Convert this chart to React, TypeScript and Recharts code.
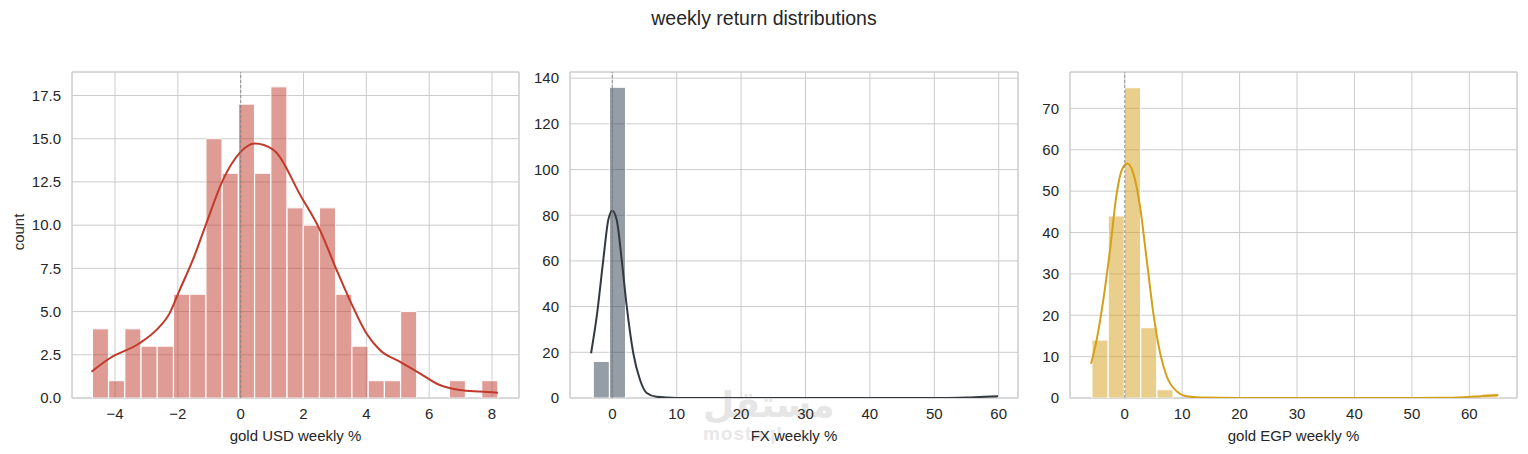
import React from 'react';
import {
  ComposedChart,
  Bar,
  Line,
  XAxis,
  YAxis,
  CartesianGrid,
  ReferenceLine,
  ReferenceArea,
} from 'recharts';

// gold USD weekly % histogram (25 bins)
const usdBinStart = -4.72;
const usdBinWidth = 0.5165;
const usdCounts = [4, 1, 4, 3, 3, 6, 6, 15, 13, 17, 13, 18, 11, 10, 11, 6, 3, 1, 1, 5, 0, 0, 1, 0, 1];
const usdKdeX = [-4.75, -4.17, -3.22, -2.68, -2.26, -1.94, -1.52, -1.09, -0.56, -0.03, 0.45, 1.03, 1.94, 2.52, 3.05, 3.47, 4.0, 4.43, 5.06, 5.7, 6.34, 6.97, 7.61, 8.19];
const usdKdeY = [1.52, 2.3, 3.17, 3.94, 4.91, 6.26, 8.0, 10.12, 12.63, 14.18, 14.72, 14.37, 11.6, 9.73, 7.42, 5.68, 3.75, 2.78, 2.1, 1.43, 0.75, 0.46, 0.37, 0.31];

// FX weekly % histogram
const fxBinStart = -2.95;
const fxBinWidth = 2.514;
const fxCounts = [16, 136, 0, 0, 0, 0, 0, 0, 0, 0, 0, 0, 0, 0, 0, 0, 0, 0, 0, 0, 0, 0, 0, 0, 1];
const fxKdeX = [-3.3, -2.42, -1.4, -0.62, 0, 0.68, 1.46, 2.24, 3.26, 4.3, 5.34, 6.9, 10, 20, 30, 40, 50, 52, 55, 57, 59.9];
const fxKdeY = [19.6, 35.7, 60.5, 78, 82, 78, 60.5, 40.1, 19.6, 8, 2.2, 0.5, 0.02, 0, 0, 0, 0.02, 0.05, 0.2, 0.45, 0.8];

// gold EGP weekly % histogram
const egpBinStart = -5.7;
const egpBinWidth = 2.83;
const egpCounts = [14, 44, 75, 17, 2, 0, 0, 0, 0, 0, 0, 0, 0, 0, 0, 0, 0, 0, 0, 0, 0, 0, 0, 0, 1];
const egpKdeX = [-5.87, -4.88, -3.73, -2.56, -1.39, -0.52, 0.45, 1.5, 2.67, 3.83, 4.98, 6.15, 7.32, 9.06, 10.8, 13.1, 20, 30, 40, 50, 55, 59, 62, 65.05];
const egpKdeY = [8.28, 14.1, 23.7, 35.8, 49.5, 55.1, 56.7, 54.3, 46.2, 33.4, 20.5, 10.9, 5.2, 1.6, 0.4, 0.1, 0, 0, 0, 0.01, 0.05, 0.2, 0.45, 0.7];

const usdYTicks = [0, 2.5, 5, 7.5, 10, 12.5, 15, 17.5];
const usdXTicks = [-4, -2, 0, 2, 4, 6, 8];
const fxYTicks = [0, 20, 40, 60, 80, 100, 120, 140];
const fxXTicks = [0, 10, 20, 30, 40, 50, 60];
const egpYTicks = [0, 10, 20, 30, 40, 50, 60, 70];
const egpXTicks = [0, 10, 20, 30, 40, 50, 60];

const toBins = (start: number, width: number, counts: number[]) =>
  counts.map((c, i) => ({ x: start + width * (i + 0.5), count: c }));
const toKde = (xs: number[], ys: number[]) => xs.map((x, i) => ({ x, y: ys[i] }));

const fmtX = (v: number) => (v < 0 ? '\u2212' + Math.abs(v) : String(v));
const TEXT = '#262626';
const tickStyle = { fontSize: 15, fill: TEXT };

interface PanelProps {
  left: number;
  width: number;
  yAxisWidth: number;
  marginLeft: number;
  marginRight: number;
  bins: { x: number; count: number }[];
  kde: { x: number; y: number }[];
  color: string;
  lineColor: string;
  xDomain: [number, number];
  yDomain: [number, number];
  xTicks: number[];
  yTicks: number[];
  yFmt: (v: number) => string;
  xLabel: string;
}

const Panel: React.FC<PanelProps> = (p) => (
  <div style={{ position: 'absolute', left: p.left, top: 0 }}>
    <ComposedChart
      width={p.width}
      height={454}
      data={p.bins}
      margin={{ top: 72, right: p.marginRight, bottom: 6, left: p.marginLeft }}
      barCategoryGap={0}
      barGap={0}
    >
      <CartesianGrid xAxisId="bins" stroke="#cccccc" strokeWidth={1} />
      <XAxis
        xAxisId="bins"
        dataKey="x"
        type="number"
        domain={p.xDomain}
        ticks={p.xTicks}
        allowDataOverflow
        tickLine={false}
        axisLine={false}
        tickSize={0}
        tickMargin={10}
        tick={tickStyle}
        tickFormatter={fmtX}
        height={50}
        label={{ value: p.xLabel, position: 'insideBottom', offset: 7, fill: TEXT, fontSize: 15 }}
      />
      <XAxis xAxisId="kde" dataKey="x" type="number" domain={p.xDomain} allowDataOverflow hide />
      <YAxis
        type="number"
        domain={p.yDomain}
        ticks={p.yTicks}
        allowDataOverflow
        tickLine={false}
        axisLine={false}
        tickSize={0}
        tickMargin={11}
        tick={tickStyle}
        tickFormatter={p.yFmt}
        width={p.yAxisWidth}
      />
      <Bar
        xAxisId="bins"
        dataKey="count"
        fill={p.color}
        fillOpacity={0.5}
        stroke="#ffffff"
        strokeWidth={1}
        isAnimationActive={false}
      />
      <Line
        xAxisId="kde"
        data={p.kde}
        dataKey="y"
        type="monotone"
        stroke={p.lineColor}
        strokeWidth={2}
        dot={false}
        activeDot={false}
        isAnimationActive={false}
      />
      <ReferenceLine xAxisId="bins" x={0} stroke="#808080" strokeWidth={0.8} strokeDasharray="3 2" />
      <ReferenceArea
        xAxisId="bins"
        x1={p.xDomain[0]}
        x2={p.xDomain[1]}
        y1={p.yDomain[0]}
        y2={p.yDomain[1]}
        fill="none"
        stroke="#cccccc"
        strokeWidth={1}
        fillOpacity={0}
      />
    </ComposedChart>
  </div>
);

export default function App() {
  return (
    <div
      style={{
        position: 'absolute',
        left: 0,
        top: 0,
        width: 1528,
        height: 454,
        background: '#ffffff',
        fontFamily: '"Liberation Sans", Arial, sans-serif',
        color: TEXT,
        overflow: 'hidden',
      }}
    >
      <div style={{ position: 'absolute', left: 0, top: 7, width: 1528, textAlign: 'center', fontSize: 19.5 }}>
        weekly return distributions
      </div>
      {/* site watermark, drawn under the charts */}
      <div style={{ position: 'absolute', left: 703, top: 384, fontSize: 36, fontWeight: 'bold', color: '#e6e6e6', fontFamily: '"DejaVu Sans", sans-serif' }}>
        مستقل
      </div>
      <div style={{ position: 'absolute', left: 703, top: 423, fontSize: 19, fontWeight: 'bold', letterSpacing: 1, color: '#e8e8e8' }}>
        mostaql
      </div>
      <div
        style={{
          position: 'absolute',
          left: 18,
          top: 232,
          fontSize: 15,
          transform: 'translate(-50%, -50%) rotate(-90deg)',
        }}
      >
        count
      </div>
      <Panel
        left={0}
        width={525}
        yAxisWidth={50}
        marginLeft={22}
        marginRight={6}
        bins={toBins(usdBinStart, usdBinWidth, usdCounts)}
        kde={toKde(usdKdeX, usdKdeY)}
        color="#c0392b"
        lineColor="#c0392b"
        xDomain={[-5.37, 8.86]}
        yDomain={[0, 18.86]}
        xTicks={usdXTicks}
        yTicks={usdYTicks}
        yFmt={(v) => v.toFixed(1)}
        xLabel="gold USD weekly %"
      />
      <Panel
        left={525}
        width={500}
        yAxisWidth={45}
        marginLeft={0}
        marginRight={7}
        bins={toBins(fxBinStart, fxBinWidth, fxCounts)}
        kde={toKde(fxKdeX, fxKdeY)}
        color="#2c3e50"
        lineColor="#33393f"
        xDomain={[-6.57, 63.0]}
        yDomain={[0, 142.7]}
        xTicks={fxXTicks}
        yTicks={fxYTicks}
        yFmt={(v) => String(v)}
        xLabel="FX weekly %"
      />
      <Panel
        left={1025}
        width={503}
        yAxisWidth={45}
        marginLeft={0}
        marginRight={11}
        bins={toBins(egpBinStart, egpBinWidth, egpCounts)}
        kde={toKde(egpKdeX, egpKdeY)}
        color="#d4a017"
        lineColor="#d4a017"
        xDomain={[-9.53, 68.3]}
        yDomain={[0, 78.8]}
        xTicks={egpXTicks}
        yTicks={egpYTicks}
        yFmt={(v) => String(v)}
        xLabel="gold EGP weekly %"
      />
    </div>
  );
}
